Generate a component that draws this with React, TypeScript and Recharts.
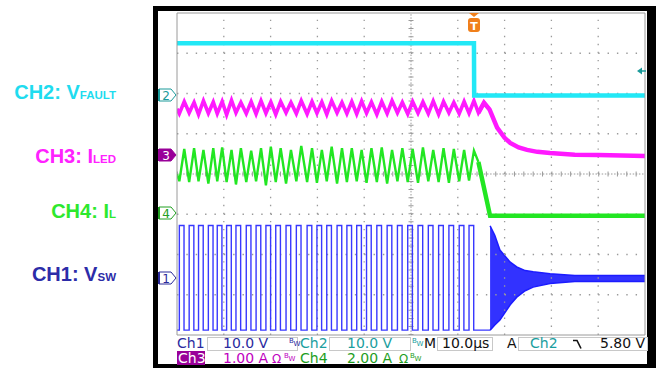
import { ComposedChart, Line, Area, XAxis, YAxis, ReferenceLine } from 'recharts'

// horizontal: time in µs (10 µs/div, 10 div). vertical: scope divisions above the bottom edge (8 div)
const timeTicks = [0, 10, 20, 30, 40, 50, 60, 70, 80, 90, 100]
const minorTimeTicks = Array.from({ length: 51 }, (_, i) => i * 2)
const divTicks = [0, 1, 2, 3, 4, 5, 6, 7, 8]
const minorDivTicks = Array.from({ length: 41 }, (_, i) => +(i * 0.2).toFixed(1))

// switching cycles (centre of each on-pulse, µs)
const swCenters = [
    1.0, 3.1, 5.1, 7.2, 9.1, 11.1, 13.1, 15.3, 17.4, 19.5,
    21.6, 23.8, 26.0, 28.3, 30.4, 32.5, 34.7, 36.8, 38.9, 41.0,
    43.2, 45.4, 47.6, 49.8, 52.0, 54.2, 56.4, 58.6, 60.8, 62.9,
]
const vswHigh = 2.72
const vswLow = 0.12

// CH4 inductor current ripple
const ilPeaks = [
    4.62, 4.64, 4.6, 4.64, 4.66, 4.6, 4.64, 4.58, 4.64, 4.68,
    4.64, 4.6, 4.7, 4.64, 4.6, 4.68, 4.64, 4.64, 4.6, 4.64,
    4.66, 4.6, 4.64, 4.62, 4.66, 4.6, 4.64, 4.62, 4.6, 4.58,
]
const ilValleys = [
    3.82, 3.8, 3.82, 3.76, 3.82, 3.8, 3.74, 3.8, 3.82, 3.72,
    3.8, 3.76, 3.82, 3.8, 3.78, 3.82, 3.76, 3.8, 3.82, 3.78,
    3.8, 3.76, 3.82, 3.8, 3.78, 3.82, 3.8, 3.78, 3.82, 3.84,
]
const ilTailT = [64.4, 66.9, 100]
const ilTailV = [4.3, 2.96, 2.96]

// CH3 LED current ripple
const ledPeaks = [
    5.8, 5.78, 5.82, 5.79, 5.8, 5.83, 5.78, 5.8, 5.82, 5.79,
    5.8, 5.78, 5.82, 5.8, 5.79, 5.82, 5.78, 5.8, 5.81, 5.79,
    5.8, 5.82, 5.78, 5.8, 5.79, 5.81, 5.8, 5.78, 5.8, 5.82,
]
const ledValleys = [
    5.5, 5.52, 5.48, 5.51, 5.5, 5.47, 5.52, 5.5, 5.49, 5.51,
    5.48, 5.52, 5.5, 5.49, 5.51, 5.48, 5.52, 5.5, 5.49, 5.51,
    5.48, 5.5, 5.52, 5.49, 5.51, 5.5, 5.48, 5.52, 5.5, 5.51,
]
const ledTailT = [64.4, 65.6, 66.8, 68.4, 70.0, 71.2, 73.0, 74.8, 77.0, 79.7, 85, 90, 100]
const ledTailV = [5.52, 5.77, 5.6, 5.15, 4.9, 4.77, 4.66, 4.6, 4.55, 4.52, 4.48, 4.47, 4.45]

// CH2 fault flag
const faultT = [0, 63.45, 63.5, 100]
const faultV = [7.25, 7.25, 5.95, 5.95]

// CH1 ringing envelope after switching stops
const ringT = [66.9, 67.9, 69.0, 71.2, 72.6, 74.4, 76.1, 79.7, 85, 100]
const ringHi = [2.71, 2.48, 2.11, 1.81, 1.69, 1.6, 1.57, 1.52, 1.48, 1.48]
const ringLo = [0.12, 0.25, 0.37, 0.75, 0.94, 1.1, 1.19, 1.28, 1.33, 1.33]

const vswData: { t: number; v: number }[] = [{ t: 0, v: vswLow }]
swCenters.forEach((c) => {
    vswData.push({ t: c - 0.5, v: vswLow }, { t: c - 0.5, v: vswHigh }, { t: c + 0.5, v: vswHigh }, { t: c + 0.5, v: vswLow })
})
vswData.push({ t: 66.9, v: vswLow })

const ringData = ringT.map((t, i) => ({ t, band: [ringLo[i], ringHi[i]] }))

const ilData: { t: number; v: number }[] = [{ t: 0, v: 4.0 }]
swCenters.forEach((c, i) => {
    ilData.push({ t: c - 0.5, v: ilValleys[i] }, { t: c + 0.55, v: ilPeaks[i] })
})
const ilTail = ilTailT.map((t, i) => ({ t, v: ilTailV[i] }))
ilData.push(ilTail[0])

const ledData: { t: number; v: number }[] = [{ t: 0, v: 5.62 }]
swCenters.forEach((c, i) => {
    ledData.push({ t: c - 0.5, v: ledValleys[i] }, { t: c + 0.55, v: ledPeaks[i] })
})
const ledTail = ledTailT.map((t, i) => ({ t, v: ledTailV[i] }))
ledData.push(ledTail[0], ledTail[1], ledTail[2])

const faultData = faultT.map((t, i) => ({ t, v: faultV[i] }))

const GRID = '#9a9a9a'
const LABEL_FONT = '"Liberation Sans", Arial, sans-serif'
const READ_FONT = '"DejaVu Sans", Verdana, sans-serif'

function Marker({ y, label, color, filled }: { y: number; label: string; color: string; filled?: boolean }) {
    return (
        <g>
            <path
                d={`M159 ${y - 6} H171 L176 ${y} L171 ${y + 6} H159 Z`}
                fill={filled ? color : '#fff'}
                stroke={color}
                strokeWidth={1}
            />
            <rect x={158} y={y - 6} width={2} height={12} fill={color} />
            <text x={166} y={y + 4.5} fontSize={12} fontFamily={READ_FONT} fill={filled ? '#fff' : color} textAnchor="middle">
                {label}
            </text>
        </g>
    )
}

function Bw({ x, y, color }: { x: number; y: number; color: string }) {
    return (
        <text x={x} y={y} fontSize={7} fontFamily={READ_FONT} fill={color}>
            B<tspan dy={3}>W</tspan>
        </text>
    )
}

export default function App() {
    return (
        <div style={{ position: 'absolute', left: 0, top: 0, width: 656, height: 368, background: '#fff' }}>
            <svg width={656} height={368} style={{ position: 'absolute', left: 0, top: 0 }}>
                <rect x={153} y={6} width={503} height={362} fill="#000" />
                <rect x={158} y={11} width={489} height={353} fill="#fff" />
            </svg>
            <div style={{ position: 'absolute', left: 0, top: 0 }}>
                <ComposedChart width={656} height={368} margin={{ top: 13, right: 11, bottom: 33, left: 177 }}>
                    <XAxis xAxisId={0} dataKey="t" type="number" domain={[0, 100]} ticks={timeTicks} allowDataOverflow
                        orientation="bottom" mirror tick={false} tickLine={false} axisLine={{ stroke: GRID }} />
                    <XAxis xAxisId="bot" type="number" domain={[0, 100]} ticks={minorTimeTicks} allowDataOverflow
                        orientation="bottom" mirror tick={false} tickSize={3} tickLine={{ stroke: GRID }} axisLine={false} />
                    <XAxis xAxisId="top" type="number" domain={[0, 100]} ticks={minorTimeTicks} allowDataOverflow
                        orientation="top" mirror tick={false} tickSize={3} tickLine={{ stroke: GRID }} axisLine={{ stroke: GRID }} />
                    <YAxis yAxisId={0} type="number" domain={[0, 8]} ticks={divTicks} allowDataOverflow
                        orientation="left" mirror tick={false} tickLine={false} axisLine={{ stroke: GRID }} />
                    <YAxis yAxisId="left" type="number" domain={[0, 8]} ticks={minorDivTicks} allowDataOverflow
                        orientation="left" mirror tick={false} tickSize={3} tickLine={{ stroke: GRID }} axisLine={false} />
                    <YAxis yAxisId="right" type="number" domain={[0, 8]} ticks={minorDivTicks} allowDataOverflow
                        orientation="right" mirror tick={false} tickSize={3} tickLine={{ stroke: GRID }} axisLine={{ stroke: GRID }} />

                    {/* dotted graticule */}
                    {divTicks.slice(1, -1).filter((d) => d !== 4).map((d) => (
                        <ReferenceLine key={`h${d}`} y={d} stroke={GRID} strokeWidth={1.3} strokeDasharray="1.4 7.96" />
                    ))}
                    {timeTicks.slice(1, -1).filter((t) => t !== 50).map((t) => (
                        <ReferenceLine key={`v${t}`} x={t} stroke={GRID} strokeWidth={1.3} strokeDasharray="1.4 6.65" />
                    ))}
                    <ReferenceLine y={4} stroke={GRID} strokeDasharray="1.5 1.6" />
                    <ReferenceLine y={4} stroke={GRID} strokeWidth={5} strokeDasharray="1 8.36" />
                    <ReferenceLine x={50} stroke={GRID} strokeDasharray="1.5 1.6" />
                    <ReferenceLine x={50} stroke={GRID} strokeWidth={5} strokeDasharray="1 7.05" />

                    <Line data={vswData} dataKey="v" type="linear" stroke="#3838ff" strokeWidth={1.4} dot={false} isAnimationActive={false} />
                    <Area data={ringData} dataKey="band" type="linear" stroke="#1c1cff" strokeWidth={1.5} fill="#1c1cff" fillOpacity={0.9} dot={false} isAnimationActive={false} />
                    <Line data={ilData} dataKey="v" type="linear" stroke="#22e622" strokeWidth={2.4} dot={false} isAnimationActive={false} />
                    <Line data={ilTail} dataKey="v" type="linear" stroke="#22e622" strokeWidth={4.5} dot={false} isAnimationActive={false} />
                    <Line data={ledData} dataKey="v" type="linear" stroke="#ff19ff" strokeWidth={3.6} dot={false} isAnimationActive={false} />
                    <Line data={ledTail} dataKey="v" type="linear" stroke="#ff19ff" strokeWidth={4.5} dot={false} isAnimationActive={false} />
                    <Line data={faultData} dataKey="v" type="linear" stroke="#22e8f6" strokeWidth={4.5} dot={false} isAnimationActive={false} />
                </ComposedChart>
            </div>
            <svg width={656} height={368} style={{ position: 'absolute', left: 0, top: 0 }}>
                {/* channel labels */}
                <g fontFamily={LABEL_FONT} fontWeight="bold" fontSize={20} textAnchor="end">
                    <text x={116} y={99} fill="#1fdcef">CH2: V<tspan fontSize={11.5}>FAULT</tspan></text>
                    <text x={116} y={163} fill="#ff22ff">CH3: I<tspan fontSize={11.5}>LED</tspan></text>
                    <text x={116} y={218} fill="#2ee82e">CH4: I<tspan fontSize={11.5}>L</tspan></text>
                    <text x={116} y={281} fill="#2c2ca8">CH1: V<tspan fontSize={11.5}>SW</tspan></text>
                </g>

                {/* ground markers */}
                <Marker y={95} label="2" color="#1a9a9a" />
                <Marker y={155} label="3" color="#990099" filled />
                <Marker y={213} label="4" color="#22a022" />
                <Marker y={278} label="1" color="#2a2a9a" />

                {/* trigger position and level */}
                <path d="M469 13 H479 L474 17 Z" fill="#f07f1a" />
                <rect x={468} y={18} width={12} height={14} rx={3} fill="#f07f1a" />
                <text x={474} y={29.5} fontSize={11} fontWeight="bold" fontFamily={READ_FONT} fill="#fff" textAnchor="middle">T</text>
                <path d="M637 71 L642 67.5 V74.5 Z" fill="#1a9a9a" />
                <line x1={641} y1={71} x2={646} y2={71} stroke="#1a9a9a" strokeWidth={1.5} />

                {/* readout */}
                <g fill="#fff" stroke="#c8c8c8" strokeWidth={1}>
                    <rect x={207.5} y={337.5} width={90} height={13} />
                    <rect x={329.5} y={337.5} width={81} height={13} />
                    <rect x={437.5} y={337.5} width={55} height={13} />
                    <rect x={518.5} y={337.5} width={129} height={13} />
                </g>
                <g fontFamily={READ_FONT} fontSize={14}>
                    <text x={177} y={348} fill="#2a2aa0">Ch1</text>
                    <text x={223} y={348} fill="#2a2aa0">10.0 V</text>
                    <Bw x={289} y={343} color="#2a2aa0" />
                    <text x={300} y={348} fill="#1a9e9e">Ch2</text>
                    <text x={347} y={348} fill="#1a9e9e">10.0 V</text>
                    <Bw x={412} y={343} color="#1a9e9e" />
                    <text x={424} y={348} fill="#111">M</text>
                    <text x={442} y={348} fill="#111">10.0µs</text>
                    <text x={507} y={348} fill="#111">A</text>
                    <text x={530} y={348} fill="#1a9e9e">Ch2</text>
                    <path d="M573 340.5 H577 L581 348.5" fill="none" stroke="#111" strokeWidth={1.6} />
                    <text x={600} y={348} fill="#111">5.80 V</text>

                    <rect x={177} y={351} width={28} height={14} fill="#990099" />
                    <text x={178} y={363} fill="#fff">Ch3</text>
                    <text x={223} y={363} fill="#c000c0">1.00 A</text>
                    <text x={272} y={363} fill="#c000c0" fontSize={12}>Ω</text>
                    <Bw x={284} y={358} color="#c000c0" />
                    <text x={300} y={363} fill="#1e9e1e">Ch4</text>
                    <text x={347} y={363} fill="#1e9e1e">2.00 A</text>
                    <text x={399} y={363} fill="#1e9e1e" fontSize={12}>Ω</text>
                    <Bw x={410} y={358} color="#1e9e1e" />
                </g>
            </svg>
        </div>
    )
}
